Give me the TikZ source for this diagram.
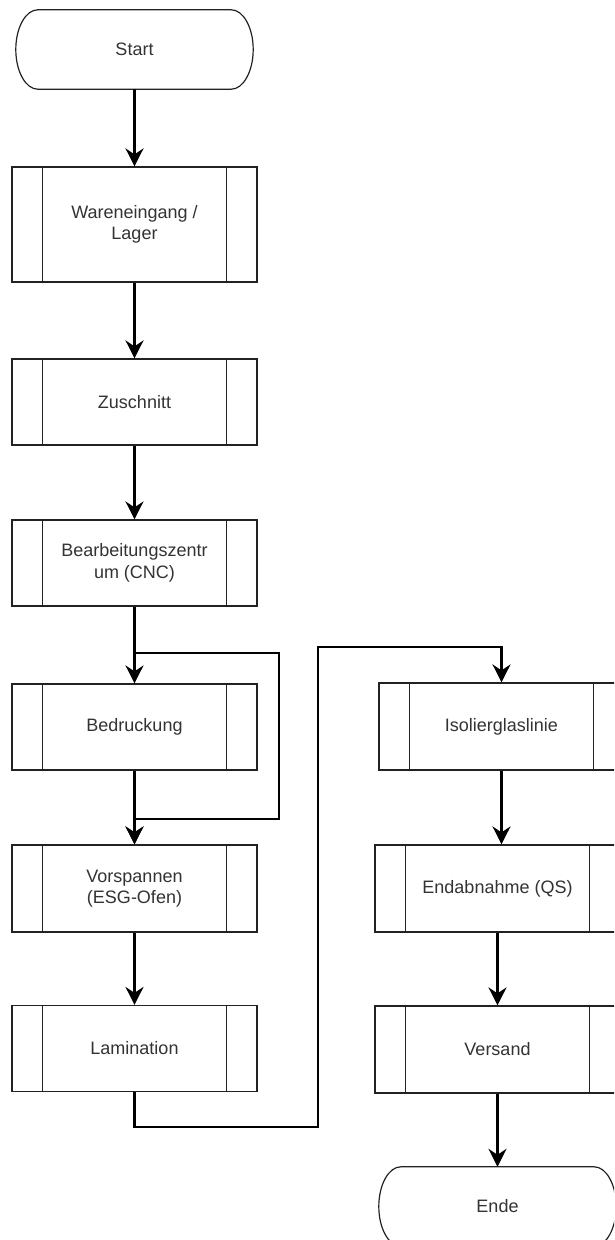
\documentclass[tikz,border=0pt]{standalone}
\usepackage{fontspec}
\setmainfont{Liberation Sans}
\usetikzlibrary{arrows.meta,calc}
\definecolor{lc}{HTML}{222222}
\definecolor{tc}{HTML}{333333}
\begin{document}
\begin{tikzpicture}[x=1pt,y=-1pt,
  proc/.style={draw=lc, line width=1.2pt, minimum width=245pt, minimum height=86pt, inner sep=0pt, align=center, text=tc, font=\fontsize{18}{21.5}\selectfont},
  term/.style={draw=none, minimum width=237pt, minimum height=79pt, inner sep=0pt, align=center, text=tc, font=\fontsize{18}{21.5}\selectfont},
  arr/.style={draw=black, line width=2.4pt, -{Stealth[length=18pt,width=18pt,inset=6pt]}},
  conn/.style={draw=black, line width=2.4pt}]
\fill[white] (0,0) rectangle (614,1240);
\useasboundingbox (0,0) rectangle (614,1240);
\clip (0,0) rectangle (614,1240);

\node[term] (st) at (134.5,49.5) {Start};
\node[proc, minimum height=115pt] (wa) at (134.5,224.5) {Wareneingang /\\Lager};
\node[proc] (zu) at (134.5,402) {Zuschnitt};
\node[proc] (cnc) at (134.5,563) {Bearbeitungszentr\\um (CNC)};
\node[proc] (bed) at (134.5,727) {Bedruckung};
\node[proc, minimum height=87pt] (vor) at (134.5,888.5) {Vorspannen\\(ESG-Ofen)};
\node[proc] (lam) at (134.5,1048.5) {Lamination};
\node[proc, minimum height=87pt] (iso) at (501.5,726.5) {Isolierglaslinie};
\node[proc, minimum height=87pt] (qs) at (497.5,888.5) {Endabnahme (QS)};
\node[proc, minimum height=87pt] (ver) at (497.5,1049.5) {Versand};
\node[term] (en) at (497.5,1206.5) {Ende};

% inner lines of predefined process boxes
\foreach \n in {wa,zu,cnc,bed,vor,lam,iso,qs,ver}{
  \draw[lc, line width=1.2pt] ($(\n.north west)+(31,0)$) -- ($(\n.south west)+(31,0)$);
  \draw[lc, line width=1.2pt] ($(\n.north east)+(-31,0)$) -- ($(\n.south east)+(-31,0)$);
}

% terminator outlines
\foreach \n in {st,en}{
  \draw[lc, line width=1.2pt]
    ($(\n.north west)+(22,0)$) -- ($(\n.north east)+(-22,0)$)
    .. controls ($(\n.north east)+(-9.8,0)$) and ($(\n.east)+(0,-21.8)$) .. (\n.east)
    .. controls ($(\n.east)+(0,21.8)$) and ($(\n.south east)+(-9.8,0)$) .. ($(\n.south east)+(-22,0)$)
    -- ($(\n.south west)+(22,0)$)
    .. controls ($(\n.south west)+(9.8,0)$) and ($(\n.west)+(0,21.8)$) .. (\n.west)
    .. controls ($(\n.west)+(0,-21.8)$) and ($(\n.north west)+(9.8,0)$) .. cycle;
}

\coordinate (j1) at (279,653);
\coordinate (j2) at (279,819);
\coordinate (k1) at (318,1127);
\coordinate (k2) at (318,647);

\draw[arr] (st) -- (wa);
\draw[arr] (wa) -- (zu);
\draw[arr] (zu) -- (cnc);
\draw[arr] (cnc) -- (bed);
\draw[arr] (cnc.south) |- (j1) -- (j2) -| (vor.north);
\draw[arr] (bed) -- (vor);
\draw[arr] (vor) -- (lam);
\draw[arr] (lam.south) |- (k1) -- (k2) -| (iso.north);
\draw[arr] (iso.south) -- (iso.south |- qs.north);
\draw[arr] (qs) -- (ver);
\draw[arr] (ver) -- (en);
\end{tikzpicture}
\end{document}
